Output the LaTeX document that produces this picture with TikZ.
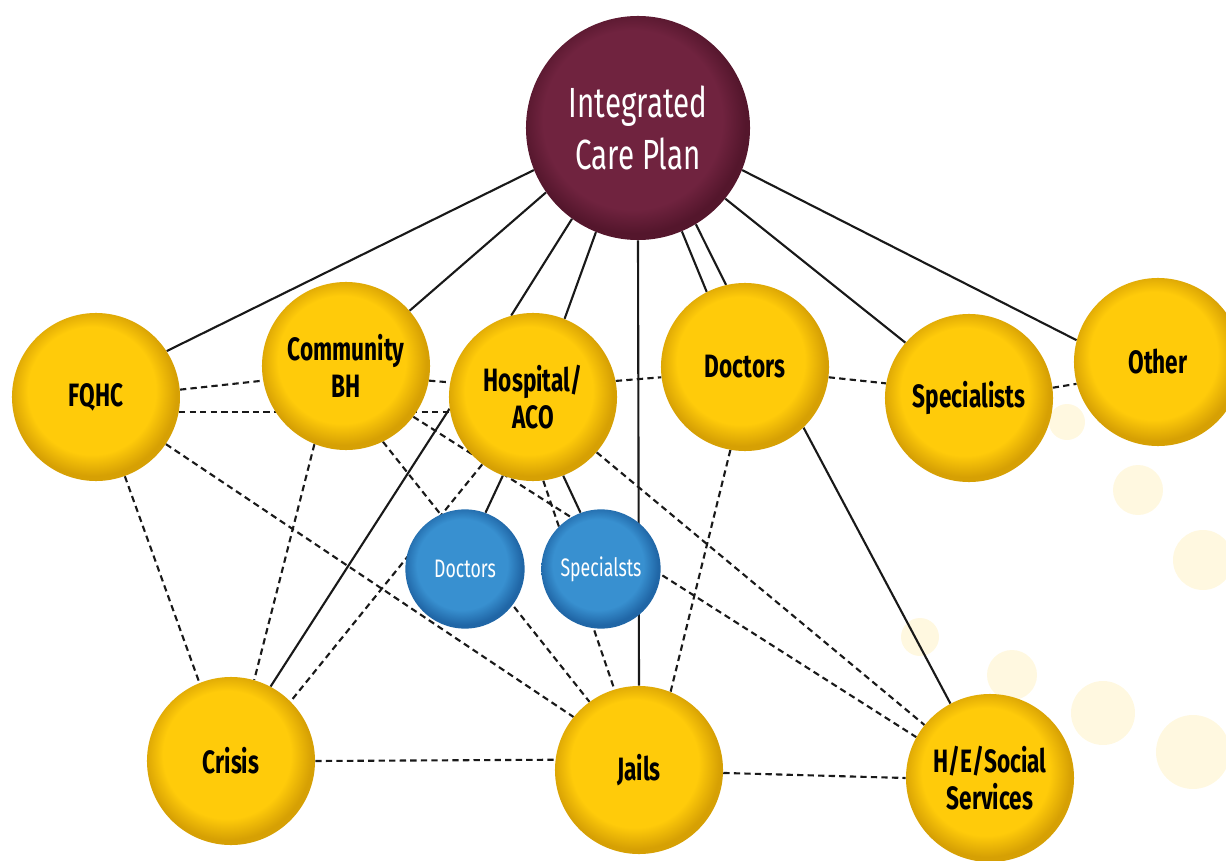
\documentclass[tikz,border=0pt]{standalone}
\usepackage{fontspec}
\usetikzlibrary{backgrounds}
\newfontfamily\ballfont[FakeStretch=0.7]{Fira Sans}

\definecolor{gold}{RGB}{255,203,10}
\definecolor{golddark}{RGB}{214,160,4}
\definecolor{plum}{RGB}{112,35,63}
\definecolor{plumdark}{RGB}{84,22,44}
\definecolor{sky}{RGB}{56,144,208}
\definecolor{skydark}{RGB}{32,102,166}
\definecolor{haze}{RGB}{255,248,224}

\pgfdeclareradialshading{goldball}{\pgfpoint{-2bp}{3bp}}{color(0bp)=(gold); color(19bp)=(gold); color(25bp)=(golddark); color(50bp)=(golddark)}
\pgfdeclareradialshading{plumball}{\pgfpoint{-2bp}{3bp}}{color(0bp)=(plum); color(20bp)=(plum); color(25bp)=(plumdark); color(50bp)=(plumdark)}
\pgfdeclareradialshading{skyball}{\pgfpoint{-2bp}{3bp}}{color(0bp)=(sky); color(19bp)=(sky); color(25bp)=(skydark); color(50bp)=(skydark)}

\begin{document}
\begin{tikzpicture}[x=0.025cm, y=-0.025cm,
    ball/.style={circle, inner sep=0pt, align=center, font=\ballfont\bfseries\fontsize{23}{26}\selectfont},
    yball/.style={ball, shading=goldball, minimum size=4.2cm},
    bball/.style={ball, shading=skyball, minimum size=2.98cm, text=white, font=\ballfont\fontsize{18}{20}\selectfont},
    link/.style={line width=1.5pt, black!90},
    dlink/.style={link, dash pattern=on 4.5pt off 3pt}]
    \useasboundingbox (0,0) rectangle (1226,861);

    % The care plan
    \node[ball, shading=plumball, minimum size=5.6cm, text=white, font=\ballfont\fontsize{30}{37}\selectfont] (icp) at (638,128) {Integrated\\Care Plan};

    % Partners
    \node[yball] (fqhc) at (96,397) {FQHC};
    \node[yball] (cbh) at (346,366) {Community\\BH};
    \node[yball] (hosp) at (533,397) {Hospital/\\ACO};
    \node[yball] (doc) at (745,367) {Doctors};
    \node[yball] (spec) at (969,398) {Specialists};
    \node[yball] (other) at (1158,362) {Other};
    \node[yball] (crisis) at (231,761) {Crisis};
    \node[yball] (jails) at (639,770) {Jails};
    \node[yball] (hes) at (990,778) {H/E/Social\\Services};

    % Hospital staff
    \node[bball] (bdoc) at (465,569) {Doctors};
    \node[bball] (bspec) at (601,569) {Specialsts};

    \begin{pgfonlayer}{background}
        % Faint dots
        \foreach \x/\y/\r in {1067/422/18, 1138/490/25, 1203/560/30, 920/637/19, 1012/675/25, 1103/713/32, 1193/752/37}
            \fill[haze] (\x,\y) circle (\r);

        % Solid links
        \foreach \a/\b in {icp.202/fqhc.33, icp.215/cbh.41, icp.234/hosp.105, icp.248/hosp.68,
                icp.270/jails.90, icp.293/doc.117, icp.301/doc.103, icp.321/spec.139,
                icp.338/other.165, hosp.249/bdoc.70, hosp.291/bspec.110, doc.314/hes.118,
                crisis.62/hosp.188}
            \draw[link] (\a) -- (\b);

        % Dashed links
        \foreach \a/\b in {fqhc.5/cbh.190, fqhc.350/hosp.190, cbh.350/hosp.170, hosp.11/doc.187,
                doc.353/spec.170, spec.7/other.195, fqhc.290/crisis.112, fqhc.326/jails.141,
                cbh.248/crisis.74, cbh.296/jails.126, cbh.323/hes.151, hosp.319/hes.141,
                hosp.233/crisis.45, hosp.277/jails.107, doc.260/jails.68, crisis.0/jails.173,
                jails.358/hes.180}
            \draw[dlink] (\a) -- (\b);
    \end{pgfonlayer}
\end{tikzpicture}
\end{document}
